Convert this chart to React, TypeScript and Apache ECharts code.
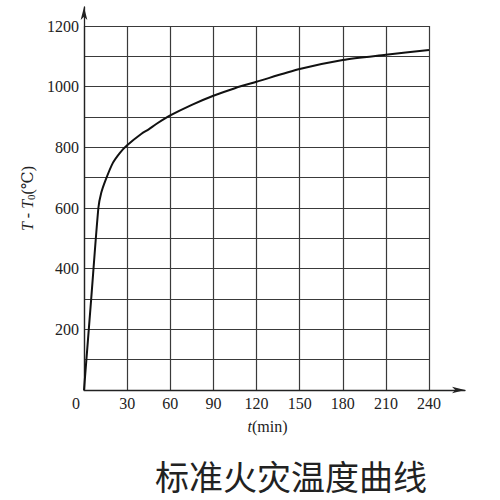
import * as echarts from 'echarts';
import { useEffect, useRef } from 'react';

// 标准火灾温度曲线 — values
const timeMin = [0, 5, 10, 12, 15, 20, 25, 30, 40, 45, 50, 60, 75, 90, 105, 120, 150, 180, 210, 240];
const tempRise = [0, 300, 600, 650, 692, 748, 782, 807, 845, 859, 876, 905, 940, 970, 995, 1016, 1058, 1088, 1105, 1121];
const xTicks = [0, 30, 60, 90, 120, 150, 180, 210, 240];
const yLabels = [200, 400, 600, 800, 1000, 1200];

const serif = '"Liberation Serif", "DejaVu Serif", serif';
const gridColor = '#3a3a3a';

const App: React.FC = () => {
  const chartRef = useRef<HTMLDivElement>(null);

  useEffect(() => {
    if (!chartRef.current) return;
    const chart = echarts.init(chartRef.current, undefined, { renderer: 'svg' });

    const axisArrow = {
      show: true,
      symbol: ['none', 'arrow'],
      symbolSize: [5, 13],
      lineStyle: { color: '#222', width: 1.3 },
    };

    chart.setOption({
      animation: false,
      backgroundColor: '#fff',
      grid: [
        { left: 84, right: 71, top: 26, bottom: 110 },
        { left: 84, right: 35, top: 7, bottom: 110 },
      ],
      xAxis: [
        {
          type: 'value',
          gridIndex: 0,
          min: 0,
          max: xTicks[xTicks.length - 1],
          interval: 30,
          axisLine: { show: false },
          axisTick: { show: false },
          splitLine: { show: true, lineStyle: { color: gridColor, width: 1.2 } },
          axisLabel: {
            margin: 5,
            fontFamily: serif,
            fontSize: 16,
            color: '#222',
            formatter: (v: number) => (v === 0 ? '{z|0}' : String(v)),
            rich: { z: { fontFamily: serif, fontSize: 16, color: '#222', padding: [0, 16, 0, 0] } },
          },
        },
        {
          type: 'value',
          gridIndex: 1,
          min: 0,
          max: 1,
          axisLine: axisArrow,
          axisTick: { show: false },
          axisLabel: { show: false },
          splitLine: { show: false },
          name: '{i|t}{n|(min)}',
          nameLocation: 'middle',
          nameGap: 28,
          nameTextStyle: {
            padding: [0, 14, 0, 0],
            rich: {
              i: { fontFamily: serif, fontStyle: 'italic', fontSize: 16, color: '#222' },
              n: { fontFamily: serif, fontSize: 16, color: '#222' },
            },
          },
        },
      ],
      yAxis: [
        {
          type: 'value',
          gridIndex: 0,
          min: 0,
          max: yLabels[yLabels.length - 1],
          interval: 100,
          axisLine: { show: false },
          axisTick: { show: false },
          splitLine: { show: true, lineStyle: { color: gridColor, width: 1.2 } },
          axisLabel: {
            margin: 5,
            fontFamily: serif,
            fontSize: 16,
            color: '#222',
            formatter: (v: number) => (yLabels.includes(v) ? String(v) : ''),
          },
        },
        {
          type: 'value',
          gridIndex: 1,
          min: 0,
          max: 1,
          axisLine: axisArrow,
          axisTick: { show: false },
          axisLabel: { show: false },
          splitLine: { show: false },
          name: '{i|T}{n| - }{i|T}{s|0}{n|(℃)}',
          nameLocation: 'middle',
          nameGap: 48,
          nameRotate: 90,
          nameTextStyle: {
            rich: {
              i: { fontFamily: serif, fontStyle: 'italic', fontSize: 16, color: '#222' },
              n: { fontFamily: serif, fontSize: 16, color: '#222' },
              s: { fontFamily: serif, fontSize: 11, color: '#222', verticalAlign: 'bottom', padding: [6, 0, 0, 0] },
            },
          },
        },
      ],
      series: [
        {
          type: 'line',
          xAxisIndex: 0,
          yAxisIndex: 0,
          data: timeMin.map((t, i) => [t, tempRise[i]]),
          smooth: 0.25,
          showSymbol: false,
          lineStyle: { color: '#111', width: 2 },
        },
      ],
      graphic: [
        {
          type: 'text',
          x: 291,
          y: 475,
          style: {
            text: '标准火灾温度曲线',
            fontFamily: '"Noto Sans CJK SC", sans-serif',
            fontSize: 34,
            fill: '#222',
            align: 'center',
            verticalAlign: 'middle',
          },
        },
      ],
    });

    return () => {
      chart.dispose();
    };
  }, []);

  return (
    <div
      ref={chartRef}
      style={{ position: 'absolute', left: 0, top: 0, width: 500, height: 500 }}
    ></div>
  );
};

export default App;
